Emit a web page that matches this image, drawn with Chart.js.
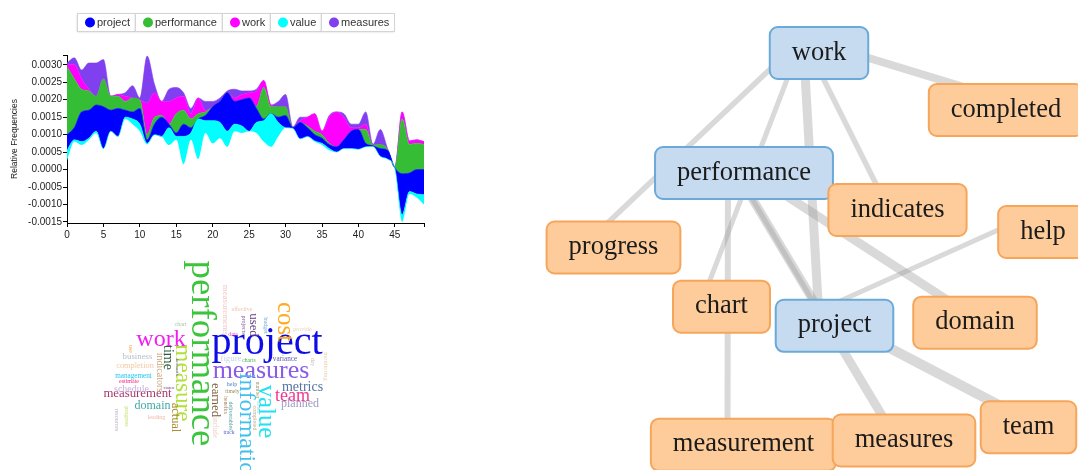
<!DOCTYPE html>
<html>
<head>
<meta charset="utf-8">
<script src="https://cdn.jsdelivr.net/npm/chart.js@4.4.1/dist/chart.umd.min.js"></script>
<style>
  html, body { margin: 0; padding: 0; background: #fff; }
  body { width: 1078px; height: 470px; position: relative; overflow: hidden; }
  .panel { position: absolute; }
  #streamBox { left: 0; top: 0; width: 440px; height: 240px; }
  #cloudBox { left: 100px; top: 245px; width: 245px; height: 225px; }
  #netBox { left: 540px; top: 0; width: 538px; height: 470px; }
</style>
</head>
<body>
<div id="streamBox" class="panel"><canvas id="stream"></canvas></div>
<div id="cloudBox" class="panel"><canvas id="cloud"></canvas></div>
<div id="netBox" class="panel"><canvas id="net"></canvas></div>
<script>
// ---- stream chart data (relative frequencies per segment) ----
var segments = [0, 1, 2, 3, 4, 5, 6, 7, 8, 9, 10, 11, 12, 13, 14, 15, 16, 17, 18, 19,
  20, 21, 22, 23, 24, 25, 26, 27, 28, 29, 30, 31, 32, 33, 34, 35, 36, 37, 38, 39,
  40, 41, 42, 43, 44, 45, 46, 47, 48, 49];

// offset of the bottom layer (streamgraph baseline)
var baseline = [
  0.00025, 0.0008, 0.0007, 0.00085, 0.00105, 0.0006, 0.0011, 0.00095, 0.00145, 0.0013,
  0.0011, 0.00072, 0.001, 0.00095, 0.0007, 0.00085, 0.00015, 0.00085, 0.0003, 0.00105,
  0.00075, 0.0009, 0.00065, 0.0011, 0.00105, 0.0011, 0.00105, 0.0008, 0.00065, 0.00095,
  0.0012, 0.00118, 0.00088, 0.00095, 0.0008, 0.0007, 0.00055, 0.0005, 0.0006, 0.0006,
  0.00058, 0.00065, 0.00066, 0.00038, 0.0003, 0.00004, -0.0015, -0.0007, -0.0008, -0.001];

var value = [
  0.0003, 0.00005, 0.0001, 0.00005, 0.00005, 0, 0, 0, 0.00005, 0.00015,
  0.0002, 0.00003, 0, 0, 0.0005, 0.0001, 0.0008, 0.0002, 0.00115, 0.00035,
  0.00065, 0.00045, 0.00045, 0.0002, 0.0002, 0, 0.0003, 0.0006, 0.00095, 0.0004,
  0, 0, 0, 0, 0.00002, 0.00005, 0.00005, 0, 0, 0,
  0, 0, 0, 0, 0, 0, 0.0002, 0.00007, 0.0001, 0.00028];

var project = [
  0.00045, 0.00035, 0.00085, 0.0008, 0.00075, 0.0012, 0.0006, 0.0008, 0.0002, 0.0002,
  0.00045, 0.0001, 0.0003, 0.00055, 0.0001, 0.0001, 0.00035, 0.00015, 0, 0.00015,
  0.0004, 0.0006, 0.0011, 0.00065, 0.00075, 0.00095, 0.0004, 0.00005, 0, 0.00015,
  0.00035, 0.00002, 0.00047, 0.00025, 0.00018, 0.00015, 0.00012, 0.00015, 0.00025, 0.0005,
  0.00057, 0.0001, 0.00002, 0.00022, 0.00025, 0.00001, 0.00118, 0.00053, 0.0007, 0.00072];

var performance = [
  0.00195, 0.0014, 0.00065, 0.00055, 0.00025, 0.0008, 0.0004, 0.00035, 0.00025, 0.0004,
  0.00025, 0.00015, 0.0002, 0.00005, 0, 0.00055, 0.0004, 0.00025, 0.00015, 0.0001,
  0, 0, 0, 0, 0, 0, 0.00005, 0.0009, 0.0002, 0.0003,
  0.00025, 0, 0, 0.00005, 0.0001, 0.0001, 0.00003, 0, 0, 0,
  0, 0.0004, 0.00002, 0.00012, 0.00003, 0.00001, 0.00157, 0.00082, 0.00075, 0.00072];

var work = [
  0.00005, 0.0004, 0.0003, 0.00005, 0, 0, 0, 0.00005, 0.00015, 0,
  0, 0.0009, 0.0007, 0.0004, 0.00065, 0.00045, 0.0004, 0.00015, 0.00045, 0.00005,
  0, 0, 0, 0.0001, 0.00015, 0.00015, 0.00045, 0.0002, 0.00005, 0,
  0, 0, 0.00005, 0.00025, 0.0005, 0.0001, 0.00075, 0.001, 0.00065, 0.0001,
  0.00005, 0.00015, 0, 0, 0, 0, 0.0002, 0.0001, 0.0001, 0.00008];

var measures = [
  0.00005, 0.0002, 0.00025, 0.00075, 0.00095, 0.00055, 0, 0, 0.0001, 0.00035,
  0.00005, 0.00135, 0.00025, 0, 0.00035, 0.0003, 0.0001, 0.00015, 0, 0.00025,
  0.00015, 0.0001, 0.00005, 0.00025, 0.0001, 0.00005, 0.00005, 0, 0, 0.00015,
  0.00035, 0.00002, 0.0001, 0, 0, 0, 0.00005, 0, 0.0001, 0.0001,
  0.0001, 0.00035, 0.00002, 0.00043, 0.00002, 0.00001, 0, 0, 0, 0];

var xTicks = [0, 5, 10, 15, 20, 25, 30, 35, 40, 45];
var yTicks = [-0.0015, -0.001, -0.0005, 0, 0.0005, 0.001, 0.0015, 0.002, 0.0025, 0.003];
var legendOrder = ['project', 'performance', 'work', 'value', 'measures'];

// ---- word cloud data ----
var cloudWords = ['performance', 'project', 'measures', 'information', 'value', 'cost', 'work', 'measure',
  'team', 'metrics', 'measurement', 'time', 'domain', 'earned', 'actual', 'planned', 'used',
  'schedule', 'indicators', 'business', 'completion', 'figure', 'measurements', 'management',
  'variance', 'include', 'monitoring', 'estimate', 'leading', 'chart', 'effective', 'provide',
  'help', 'projects', 'budget', 'deliverables', 'completed', 'use', 'progress', 'resources',
  'data', 'charts', 'timely', 'track', 'day', 'number', 'benefits', 'status', 'shows', 'forecasts'];
var cloudFreq = [92, 100, 65, 60, 62, 62, 60, 58, 45, 35, 32, 35, 30, 32, 31, 30, 32,
  25, 25, 22, 21, 22, 22, 18, 18, 18, 16,
  15, 15, 15, 15, 15, 15, 15, 15, 15, 15, 15, 15, 15,
  14, 14, 14, 14, 14, 14, 14, 12, 12, 12];

// ---- co-occurrence network data ----
var netNodes = ['work', 'performance', 'project', 'completed', 'indicates', 'help', 'progress',
  'chart', 'domain', 'measurement', 'measures', 'team'];
var netHubs = ['work', 'performance', 'project'];
var edgeFrom = ['work', 'work', 'work', 'work', 'work', 'performance', 'performance',
  'performance', 'performance', 'project', 'project'];
var edgeTo = ['completed', 'progress', 'chart', 'project', 'indicates', 'measurement', 'project',
  'measures', 'domain', 'team', 'help'];
var edgeWeight = [16, 11, 10, 18, 11, 12, 10, 18, 18, 20, 10];

// ---- layout / style (not data) ----
var palette = { project: '#0000ff', performance: '#36bd36', work: '#ff00ff', value: '#00ffff', measures: '#8040f0' };
var sansFont = '"Liberation Sans", Arial, sans-serif';
var serifFont = '"Liberation Serif", "Times New Roman", serif';

// word placements in cloud units: [x, y, rotation]
var cloudSpots = [
  [101.5, 108.5, 90], [167, 98.5, 0], [161, 126.2, 0], [146, 184.5, 90], [166, 166.5, 90],
  [184.7, 77, 90], [61, 94.8, 0], [82.5, 138, 90], [192.5, 150.9, 0], [202.5, 142.2, 0],
  [37.5, 148.5, 0], [68, 112.5, 90], [52.5, 160.5, 0], [115, 155, 90], [75, 172.5, 90],
  [200, 159, 0], [153, 80, 90], [31.5, 144, 0], [59.5, 127.5, 90], [37.5, 112, 0],
  [35, 121, 0], [131, 114, 0], [125, 65, 90], [33.5, 131.5, 0], [185, 114.5, 0],
  [115, 182.5, 90], [225.5, 121.5, 90], [29, 136.5, 0], [56.5, 172.5, 0], [80.5, 79.5, 0],
  [142, 64.5, 0], [202.5, 84.5, 0], [132, 139.5, 0], [143.5, 80, 90], [165.5, 80.5, 90],
  [130.5, 171, 90], [154.5, 173, 90], [30.5, 104, 90], [27, 171.5, 90], [17, 175, 90],
  [133, 89.5, 0], [149, 115.5, 0], [132.5, 146.5, 0], [129, 187.5, 0], [212.5, 117, 90],
  [157.5, 145, 90], [125.5, 160, 90], [69, 142.5, 0], [158.5, 162, 90], [77, 122, 90]];
var cloudInk = ['#3cc43c', '#0c0ce6', '#8a5ce8', '#40bff0', '#20e2f0', '#ffab1f', '#f01ef0', '#b2df3e',
  '#f2358c', '#5474a4', '#a8386f', '#2f5b3d', '#40a8a8', '#7c5c3c', '#a88c30', '#9c9cc4', '#633f86',
  '#c8b0dc', '#c8a47c', '#b8c0cc', '#f2c9a0', '#c4d4ec', '#f4c8c8', '#22c8f0', '#6060a8', '#e8d0bc',
  '#e8d0a8', '#f0287a', '#f0b8a8', '#a8c8a0', '#f4c0b4', '#e4d0b8', '#5080c8', '#9060a0', '#70b0e0',
  '#50a0a0', '#c8b090', '#f0a860', '#c8e070', '#c0b0d0', '#e040c0', '#40b848', '#909058', '#5060d0',
  '#c8c0b0', '#a0a070', '#a08060', '#8050a0', '#b0c8d8', '#7050c0'];

// node anchor points in network units
var netSpots = [[263, 38], [188, 158], [278.5, 310.8], [450, 95], [341.5, 195], [487, 217],
  [57.5, 232.5], [165.5, 291.7], [419, 307.7], [187.5, 429.7], [348, 425.5], [472.5, 412.3]];

Chart.defaults.font.family = sansFont;
Chart.defaults.animation = false;

// ---------------- stream chart ----------------
var streamLayers = [['value', value], ['project', project], ['performance', performance], ['work', work], ['measures', measures]];
var running = baseline.slice();
var streamSets = [{
  label: 'baseline',
  data: segments.map(function (s, i) { return { x: s, y: baseline[i] }; }),
  borderColor: 'transparent', borderWidth: 0, pointRadius: 0, fill: false,
  cubicInterpolationMode: 'monotone'
}];
streamLayers.forEach(function (layer) {
  running = running.map(function (v, i) { return v + layer[1][i]; });
  streamSets.push({
    label: layer[0],
    data: segments.map(function (s, i) { return { x: s, y: running[i] }; }),
    backgroundColor: palette[layer[0]],
    borderColor: palette[layer[0]],
    borderWidth: 0.6,
    pointRadius: 0,
    fill: '-1',
    cubicInterpolationMode: 'monotone'
  });
});

var boxLegend = {
  id: 'boxLegend',
  afterDraw: function (chart) {
    var ctx = chart.ctx;
    var x = chart.chartArea.left + 10;
    var top = 13, h = 18;
    ctx.save();
    ctx.font = '11px ' + sansFont;
    ctx.textBaseline = 'middle';
    legendOrder.forEach(function (name) {
      var w = Math.round(20 + ctx.measureText(name).width + 5);
      ctx.shadowColor = 'rgba(0,0,0,0.18)';
      ctx.shadowBlur = 2;
      ctx.shadowOffsetY = 1;
      ctx.fillStyle = '#fff';
      ctx.fillRect(x, top, w, h);
      ctx.shadowColor = 'transparent';
      ctx.strokeStyle = '#d4d4d4';
      ctx.lineWidth = 1;
      ctx.strokeRect(x + 0.5, top + 0.5, w, h);
      ctx.fillStyle = palette[name];
      ctx.beginPath();
      ctx.arc(x + 13, top + h / 2 + 0.5, 5, 0, Math.PI * 2);
      ctx.fill();
      ctx.fillStyle = '#333';
      ctx.fillText(name, x + 20, top + h / 2 + 1);
      x += w;
    });
    ctx.restore();
  }
};

new Chart(document.getElementById('stream'), {
  type: 'line',
  data: { datasets: streamSets },
  options: {
    responsive: true,
    maintainAspectRatio: false,
    layout: { padding: { left: 5, right: 16, top: 55, bottom: 0 } },
    events: [],
    plugins: { legend: { display: false }, tooltip: { enabled: false } },
    scales: {
      x: {
        type: 'linear', min: 0, max: 49,
        afterFit: function (s) { s.height = 17; },
        afterBuildTicks: function (s) { s.ticks = xTicks.concat([49]).map(function (v) { return { value: v }; }); },
        grid: { display: true, drawOnChartArea: false, drawTicks: true, tickLength: 4, color: '#000' },
        border: { display: true, color: '#000' },
        ticks: {
          autoSkip: false, maxRotation: 0, padding: 2, color: '#222', font: { size: 10 },
          callback: function (v) { return xTicks.indexOf(v) >= 0 ? String(v) : ''; }
        }
      },
      y: {
        type: 'linear', min: -0.00153, max: 0.00328,
        afterFit: function (s) { s.width = 62; },
        afterBuildTicks: function (s) { s.ticks = yTicks.concat([0.00328]).map(function (v) { return { value: v }; }); },
        grid: { display: true, drawOnChartArea: false, drawTicks: true, tickLength: 4, color: '#000' },
        border: { display: true, color: '#000' },
        title: { display: true, text: 'Relative Frequencies', color: '#222', font: { size: 8.5 }, padding: { top: 5, bottom: 0 } },
        ticks: {
          autoSkip: false, padding: 1, color: '#222', font: { size: 10 },
          callback: function (v, i) { return i < yTicks.length ? v.toFixed(4) : ''; }
        }
      }
    }
  },
  plugins: [boxLegend]
});

// ---------------- word cloud ----------------
var wordPainter = {
  id: 'wordPainter',
  afterDatasetsDraw: function (chart) {
    var ctx = chart.ctx;
    var pts = chart.getDatasetMeta(0).data;
    ctx.save();
    ctx.textAlign = 'center';
    ctx.textBaseline = 'middle';
    cloudWords.forEach(function (word, i) {
      var size = cloudFreq[i] * 0.4;
      ctx.save();
      ctx.translate(pts[i].x, pts[i].y);
      ctx.rotate(cloudSpots[i][2] * Math.PI / 180);
      ctx.font = size.toFixed(1) + 'px ' + serifFont;
      ctx.fillStyle = cloudInk[i];
      ctx.fillText(word, 0, 0);
      ctx.restore();
    });
    ctx.restore();
  }
};

new Chart(document.getElementById('cloud'), {
  type: 'scatter',
  data: { datasets: [{ data: cloudSpots.map(function (p) { return { x: p[0], y: p[1] }; }), pointRadius: 0 }] },
  options: {
    responsive: true, maintainAspectRatio: false, events: [],
    layout: { padding: 0 },
    plugins: { legend: { display: false }, tooltip: { enabled: false } },
    scales: {
      x: { type: 'linear', min: 0, max: 245, display: false },
      y: { type: 'linear', min: 0, max: 225, reverse: true, display: false }
    }
  },
  plugins: [wordPainter]
});

// ---------------- network ----------------
function spotOf(name) { var p = netSpots[netNodes.indexOf(name)]; return { x: p[0], y: p[1] }; }

var netSets = edgeFrom.map(function (from, i) {
  return {
    data: [spotOf(from), spotOf(edgeTo[i])],
    showLine: true,
    borderColor: 'rgba(150,150,150,0.36)',
    borderWidth: edgeWeight[i] / 2,
    borderCapStyle: 'butt',
    pointRadius: 0
  };
});
netSets.push({ label: 'nodes', data: netSpots.map(function (p) { return { x: p[0], y: p[1] }; }), pointRadius: 0 });

function roundBox(ctx, x, y, w, h, r) {
  ctx.beginPath();
  ctx.moveTo(x + r, y);
  ctx.lineTo(x + w - r, y);
  ctx.arcTo(x + w, y, x + w, y + r, r);
  ctx.lineTo(x + w, y + h - r);
  ctx.arcTo(x + w, y + h, x + w - r, y + h, r);
  ctx.lineTo(x + r, y + h);
  ctx.arcTo(x, y + h, x, y + h - r, r);
  ctx.lineTo(x, y + r);
  ctx.arcTo(x, y, x + r, y, r);
  ctx.closePath();
}

var nodePainter = {
  id: 'nodePainter',
  afterDatasetsDraw: function (chart) {
    var ctx = chart.ctx;
    var pts = chart.getDatasetMeta(chart.data.datasets.length - 1).data;
    var order = netNodes.filter(function (n) { return netHubs.indexOf(n) >= 0; })
      .concat(netNodes.filter(function (n) { return netHubs.indexOf(n) < 0; }));
    ctx.save();
    ctx.font = '26.5px ' + serifFont;
    ctx.textAlign = 'center';
    ctx.textBaseline = 'alphabetic';
    order.forEach(function (name) {
      var el = pts[netNodes.indexOf(name)];
      var hub = netHubs.indexOf(name) >= 0;
      var cx = el.x + 16, cy = el.y + 15;
      var w = ctx.measureText(name).width + 44, h = 52;
      roundBox(ctx, cx - w / 2, cy - h / 2, w, h, 8);
      ctx.fillStyle = hub ? '#c6dbf0' : '#fdcc9a';
      ctx.fill();
      ctx.lineWidth = 2;
      ctx.strokeStyle = hub ? '#6aa9d8' : '#f6a55a';
      ctx.stroke();
      ctx.fillStyle = '#1b1b1b';
      ctx.fillText(name, cx, cy + 6.5);
    });
    ctx.restore();
  }
};

new Chart(document.getElementById('net'), {
  type: 'scatter',
  data: { datasets: netSets },
  options: {
    responsive: true, maintainAspectRatio: false, events: [],
    layout: { padding: 0 },
    plugins: { legend: { display: false }, tooltip: { enabled: false } },
    scales: {
      x: { type: 'linear', min: 0, max: 538, display: false },
      y: { type: 'linear', min: 0, max: 470, reverse: true, display: false }
    }
  },
  plugins: [nodePainter]
});
</script>
</body>
</html>
